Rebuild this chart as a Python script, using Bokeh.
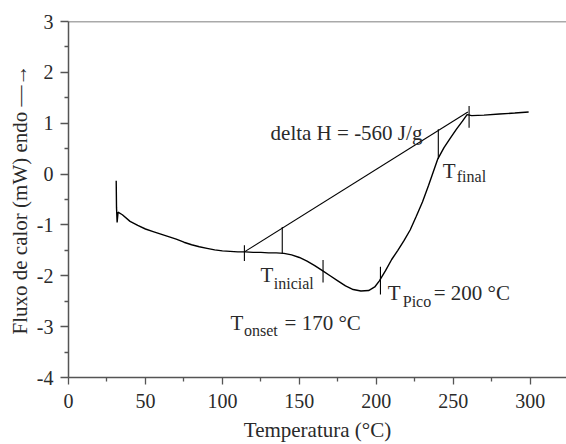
from bokeh.plotting import figure
from bokeh.models import Range1d, FixedTicker, Span
from bokeh.core.properties import value
from bokeh.embed import file_html
from bokeh.resources import INLINE

# DSC curve (temperature in C, heat flow in mW)
temp = [31.0, 31.2, 31.6, 32.2, 35, 40, 45, 50, 55, 60, 65, 70, 75, 80, 85, 90, 95,
        100, 105, 110, 115, 120, 125, 130, 135, 140, 145, 150, 155, 160, 165, 170,
        175, 180, 185, 190, 195, 199, 202, 206, 210, 214, 218, 222, 226, 230, 234,
        237, 240, 244, 248, 252, 256, 259, 262, 270, 280, 290, 299]
flux = [-0.13, -0.66, -0.95, -0.75, -0.80, -0.93, -1.01, -1.08, -1.13, -1.18, -1.23,
        -1.28, -1.34, -1.39, -1.43, -1.46, -1.49, -1.51, -1.52, -1.53, -1.53, -1.54,
        -1.54, -1.55, -1.55, -1.56, -1.59, -1.64, -1.71, -1.80, -1.90, -2.00, -2.10,
        -2.20, -2.27, -2.30, -2.29, -2.22, -2.10, -1.90, -1.68, -1.50, -1.31, -1.10,
        -0.83, -0.55, -0.22, 0.04, 0.30, 0.52, 0.70, 0.88, 1.04, 1.17, 1.15, 1.16,
        1.18, 1.20, 1.22]

# integration baseline
base_x = [114.3, 259.5]
base_y = [-1.53, 1.22]

# vertical marker segments
mark_x = [114.3, 138.9, 165.4, 202.7, 240.3, 260.3]
mark_y0 = [-1.40, -1.04, -1.69, -1.82, 0.88, 1.34]
mark_y1 = [-1.71, -1.56, -2.13, -2.37, 0.30, 0.91]

# ticks
x_ticks = [0, 50, 100, 150, 200, 250, 300]
x_tick_labels = ["0", "50", "100", "150", "200", "250", "300"]
x_minor = [25, 75, 125, 175, 225, 275, 325]
y_ticks = [-4, -3, -2, -1, 0, 1, 2, 3]
y_tick_labels = ["-4", "-3", "-2", "-1", "0", "1", "2", "3"]
y_minor = [-3.5, -2.5, -1.5, -0.5, 0.5, 1.5, 2.5]

# annotation texts
main_text = ["delta H = -560 J/g", "T", "T", "= 170 °C", "T", "= 200 °C", "T"]
main_x = [131.3, 124.8, 105.3, 140.4, 207.5, 237.3, 243.2]
main_y = [0.812, -1.98, -2.93, -2.93, -2.344, -2.344, 0.06]
sub_text = ["inicial", "onset", "Pico", "final"]
sub_x = [133.4, 114.0, 217.2, 252.3]
sub_y = [-2.143, -3.07, -2.506, -0.04]

FONT = "Liberation Serif"
AX = "#555555"
TXT = "#2a2a2a"

p = figure(width=566, height=444, output_backend="svg", toolbar_location=None,
           x_range=Range1d(0, 323.6), y_range=Range1d(-4, 3),
           min_border_left=68, min_border_right=0, min_border_top=21,
           min_border_bottom=64)
p.outline_line_color = None
p.xgrid.visible = False
p.ygrid.visible = False
p.background_fill_color = "white"

for ax in (p.xaxis[0], p.yaxis[0]):
    ax.axis_line_color = AX
    ax.axis_line_width = 1.5
    ax.major_tick_line_color = AX
    ax.minor_tick_line_color = AX
    ax.major_tick_line_width = 1.3
    ax.minor_tick_line_width = 1.3
    ax.major_tick_in = 0
    ax.minor_tick_in = 0
    ax.major_label_text_font = FONT
    ax.major_label_text_font_size = "20px"
    ax.major_label_text_color = TXT
    ax.axis_label_text_font = FONT
    ax.axis_label_text_font_size = "21px"
    ax.axis_label_text_font_style = "normal"
    ax.axis_label_text_color = TXT

p.xaxis[0].ticker = FixedTicker(ticks=x_ticks, minor_ticks=x_minor)
p.xaxis[0].major_label_overrides = dict(zip(x_ticks, x_tick_labels))
p.xaxis[0].major_tick_out = 7
p.xaxis[0].minor_tick_out = 4
p.xaxis[0].major_label_standoff = 9
p.xaxis[0].axis_label = "Temperatura (°C)"
p.xaxis[0].axis_label_standoff = 7

p.yaxis[0].ticker = FixedTicker(ticks=y_ticks, minor_ticks=y_minor)
p.yaxis[0].major_label_overrides = dict(zip(y_ticks, y_tick_labels))
p.yaxis[0].major_tick_out = 8
p.yaxis[0].minor_tick_out = 4
p.yaxis[0].major_label_standoff = 7
p.yaxis[0].axis_label = "Fluxo de calor (mW) endo \u2014\u2192"
p.yaxis[0].axis_label_standoff = 2

p.add_layout(Span(location=3, dimension="width", line_color=AX, line_width=1.5))

p.line(temp, flux, line_color="black", line_width=1.4)
p.line(base_x, base_y, line_color="black", line_width=1.1)
p.segment(x0=mark_x, y0=mark_y0, x1=mark_x, y1=mark_y1, line_color="black", line_width=1.1)

p.text(x=main_x, y=main_y, text=main_text, text_font=value(FONT), text_font_size="21px",
       text_baseline="alphabetic", text_align="left", text_color=TXT)
p.text(x=sub_x, y=sub_y, text=sub_text, text_font=value(FONT), text_font_size="16px",
       text_baseline="alphabetic", text_align="left", text_color=TXT)

open("out.html", "w").write(file_html(p, INLINE))
